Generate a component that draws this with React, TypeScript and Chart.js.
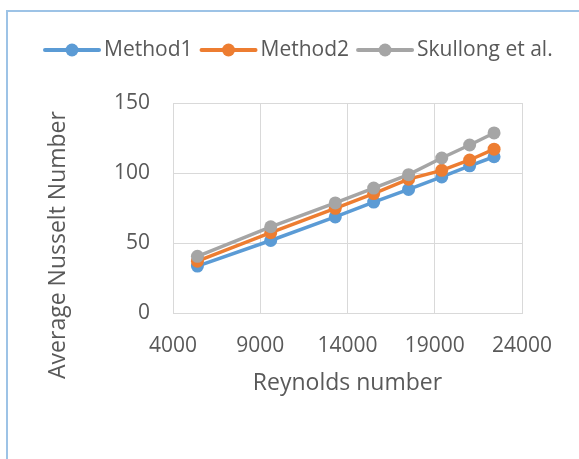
import { useEffect, useRef } from "react";
import { Chart, registerables } from "chart.js";

Chart.register(...registerables);

// Reynolds numbers of the test points
const reynolds = [5400, 9600, 13300, 15500, 17500, 19400, 21000, 22400];

// Average Nusselt number for each method
const method1 = [33.5, 51.8, 68.6, 79.2, 88.3, 97.2, 105.1, 111.6];
const method2 = [37.0, 57.4, 74.8, 85.3, 95.6, 101.9, 109.3, 117.0];
const skullong = [40.5, 61.6, 78.6, 89.2, 98.8, 110.7, 120.0, 128.6];

const seriesNames = ["Method1", "Method2", "Skullong et al."];
const xTickValues = [4000, 9000, 14000, 19000, 24000];
const yTickValues = [0, 50, 100, 150];

const xTitle = "Reynolds number";
const yTitle = "Average Nusselt Number";

const COLORS = ["#5B9BD5", "#ED7D31", "#A5A5A5"];
const TEXT = "#595959";
const GRID = "#D9D9D9";
const FONT = '"Open Sans", "DejaVu Sans", sans-serif';
const FONT_SIZE = 21;
const TITLE_SIZE = 23;

// Legend row and rotated y-axis title, drawn on the chart canvas
const sideText = {
  id: "sideText",
  afterDraw(chart: any) {
    const ctx = chart.ctx as CanvasRenderingContext2D;
    ctx.save();
    ctx.font = `${FONT_SIZE}px ${FONT}`;
    ctx.fillStyle = TEXT;
    ctx.textBaseline = "middle";
    ctx.textAlign = "left";
    const legendY = 50;
    let x = 45;
    chart.data.datasets.forEach((ds: any) => {
      ctx.strokeStyle = ds.borderColor;
      ctx.lineWidth = 4;
      ctx.lineCap = "round";
      ctx.beginPath();
      ctx.moveTo(x, legendY);
      ctx.lineTo(x + 54, legendY);
      ctx.stroke();
      ctx.fillStyle = ds.backgroundColor;
      ctx.beginPath();
      ctx.arc(x + 27, legendY, 6.5, 0, Math.PI * 2);
      ctx.fill();
      ctx.fillStyle = TEXT;
      ctx.fillText(ds.label, x + 59, legendY);
      x += 59 + ctx.measureText(ds.label).width + 9;
    });
    ctx.font = `${TITLE_SIZE}px ${FONT}`;
    ctx.translate(58, 245);
    ctx.rotate(-Math.PI / 2);
    ctx.textAlign = "center";
    ctx.fillText(yTitle, 0, 0);
    ctx.restore();
  },
};

export default function App() {
  const canvasRef = useRef<HTMLCanvasElement>(null);

  useEffect(() => {
    const canvas = canvasRef.current;
    if (!canvas) return;
    const seriesValues = [method1, method2, skullong];
    const chart = new Chart(canvas, {
      type: "line",
      data: {
        datasets: seriesValues.map((vals, i) => ({
          label: seriesNames[i],
          data: reynolds.map((re, j) => ({ x: re, y: vals[j] })),
          borderColor: COLORS[i],
          backgroundColor: COLORS[i],
          pointBackgroundColor: COLORS[i],
          pointBorderColor: COLORS[i],
          borderWidth: 3.5,
          pointRadius: 6.5,
          pointBorderWidth: 0,
          tension: 0,
          order: seriesValues.length - i,
        })),
      },
      options: {
        animation: false,
        responsive: false,
        devicePixelRatio: 1,
        layout: { padding: { left: 0, top: 103, right: 57, bottom: 0 } },
        plugins: {
          legend: { display: false },
          tooltip: { enabled: false },
        },
        scales: {
          x: {
            type: "linear",
            min: 4000,
            max: 24000,
            afterBuildTicks: (scale: any) => {
              scale.ticks = xTickValues.map((v) => ({ value: v }));
            },
            afterFit: (scale: any) => {
              scale.height = 146;
            },
            grid: { color: GRID, lineWidth: 1, drawTicks: false },
            border: { color: GRID, width: 1 },
            ticks: {
              color: TEXT,
              font: { family: FONT, size: FONT_SIZE },
              padding: 20,
              maxRotation: 0,
              callback: (v: any) => String(v),
            },
            title: {
              display: true,
              text: xTitle,
              color: TEXT,
              font: { family: FONT, size: TITLE_SIZE },
              padding: { top: 0, bottom: 62 },
            },
          },
          y: {
            type: "linear",
            min: 0,
            max: 150,
            afterBuildTicks: (scale: any) => {
              scale.ticks = yTickValues.map((v) => ({ value: v }));
            },
            afterFit: (scale: any) => {
              scale.width = 173;
            },
            grid: { color: GRID, lineWidth: 1, drawTicks: false },
            border: { color: GRID, width: 1 },
            ticks: {
              color: TEXT,
              font: { family: FONT, size: FONT_SIZE },
              padding: 23,
            },
          },
        },
      },
      plugins: [sideText],
    });
    return () => chart.destroy();
  }, []);

  return (
    <div
      style={{
        position: "fixed",
        left: 0,
        top: 0,
        width: 579,
        height: 459,
        overflow: "hidden",
        background: "#ffffff",
      }}
    >
      <div
        style={{
          position: "absolute",
          left: 6,
          top: 10,
          width: 640,
          height: 520,
          border: "2px solid #9DC3E6",
          boxSizing: "border-box",
        }}
      />
      <canvas
        ref={canvasRef}
        width={579}
        height={459}
        style={{ position: "absolute", left: 0, top: 0, width: 579, height: 459 }}
      />
    </div>
  );
}
